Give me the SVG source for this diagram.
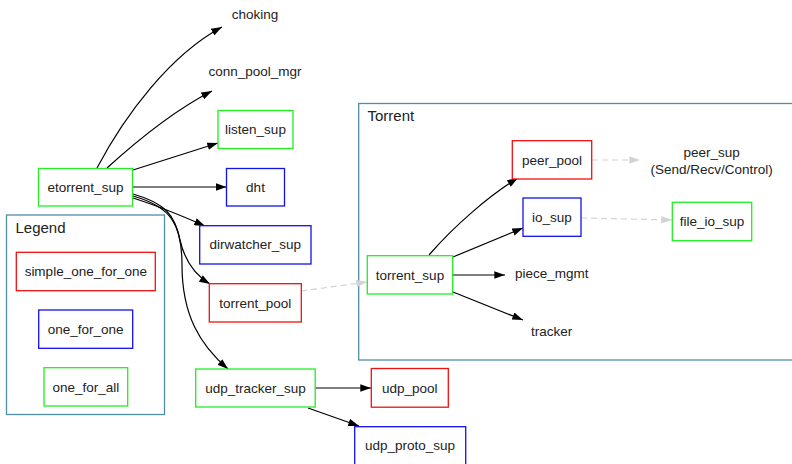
<svg xmlns="http://www.w3.org/2000/svg" width="792" height="464" viewBox="0 0 792 464">
<defs>
<marker id="ah" viewBox="0 0 10 7" refX="10" refY="3.5" markerWidth="11" markerHeight="7.5" markerUnits="userSpaceOnUse" orient="auto"><path d="M0,0 L10,3.5 L0,7 z" fill="#000"/></marker>
<marker id="ahg" viewBox="0 0 10 7" refX="10" refY="3.5" markerWidth="11" markerHeight="7.5" markerUnits="userSpaceOnUse" orient="auto"><path d="M0,0 L10,3.5 L0,7 z" fill="#d3d3d3"/></marker>
<style>
text{font-family:"Liberation Sans","DejaVu Sans",Arial,sans-serif;font-size:13.5px;fill:#222;text-anchor:middle;dominant-baseline:central}
.g{fill:#fff;stroke:#22ee22;stroke-width:1.3}
.r{fill:#fff;stroke:#ee1111;stroke-width:1.3}
.b{fill:#fff;stroke:#1111ee;stroke-width:1.3}
.cl{fill:none;stroke:#4f8ea8;stroke-width:1.3}
.e{fill:none;stroke:#000;stroke-width:1.2;marker-end:url(#ah)}
.d{fill:none;stroke:#d3d3d3;stroke-width:1.2;stroke-dasharray:6,4;marker-end:url(#ahg)}
.ct{text-anchor:start;font-size:15px}
</style>
</defs>
<rect width="792" height="464" fill="#fff"/>
<g id="cluster_legend"><rect class="cl" x="6.5" y="215" width="158" height="199.5"/><text class="ct" x="15.5" y="227.5">Legend</text></g>
<g id="cluster_torrent"><rect class="cl" x="358.7" y="103.5" width="450" height="256.5"/><text class="ct" x="367.5" y="115.5">Torrent</text></g>
<g id="connectors">
<path class="e" d="M97,168 C125,115 170,55 222,27"/>
<path class="e" d="M107,168 C140,138 175,110 212,91"/>
<path class="e" d="M133,170 L218,143"/>
<path class="e" d="M133,187 L226.5,187"/>
<path class="e" d="M133,198 C155,205 180,215 205,226"/>
<path class="e" d="M133,194 C165,203 175,215 180,240 C185,262 195,275 210,284"/>
<path class="e" d="M133,196 C172,207 182,225 182,265 C182,315 200,345 228,369"/>
<path class="e" d="M315,388 L371,388"/>
<path class="e" d="M308,408 L359,426"/>
<path class="d" d="M301,291 L367,282"/>
<path class="e" d="M429,255 C455,225 490,195 518,178"/>
<path class="e" d="M453,257 L523,228"/>
<path class="e" d="M453,275 L505,275"/>
<path class="e" d="M453,292 L523,320"/>
<path class="d" d="M592,160 L640,160"/>
<path class="d" d="M581,218 L672,220"/>
</g>
<g id="choking"><text x="255" y="14">choking</text></g>
<g id="conn_pool_mgr"><text x="255" y="71">conn_pool_mgr</text></g>
<g id="etorrent_sup"><rect class="g" x="38.5" y="168.5" width="94" height="37.5"/><text x="85.5" y="187">etorrent_sup</text></g>
<g id="listen_sup"><rect class="g" x="218" y="110.5" width="75" height="38"/><text x="255.5" y="129.5">listen_sup</text></g>
<g id="dht"><rect class="b" x="226.5" y="168.5" width="58" height="37.5"/><text x="255.5" y="187">dht</text></g>
<g id="dirwatcher_sup"><rect class="b" x="199.7" y="225.7" width="111.3" height="38.3"/><text x="255.3" y="244.8">dirwatcher_sup</text></g>
<g id="torrent_pool"><rect class="r" x="209.3" y="283.7" width="92" height="38.3"/><text x="255.3" y="303">torrent_pool</text></g>
<g id="udp_tracker_sup"><rect class="g" x="195.7" y="369" width="119.5" height="38"/><text x="255.5" y="388">udp_tracker_sup</text></g>
<g id="udp_pool"><rect class="r" x="371.3" y="368.5" width="77" height="38.7"/><text x="409.8" y="388">udp_pool</text></g>
<g id="udp_proto_sup"><rect class="b" x="354.7" y="426.7" width="111" height="40"/><text x="410" y="445">udp_proto_sup</text></g>
<g id="simple_one_for_one"><rect class="r" x="16.3" y="252.3" width="139" height="38.4"/><text x="85.8" y="271.5">simple_one_for_one</text></g>
<g id="one_for_one"><rect class="b" x="38.7" y="310" width="94" height="38.3"/><text x="85.7" y="329">one_for_one</text></g>
<g id="one_for_all"><rect class="g" x="44" y="367.7" width="83.7" height="38.3"/><text x="85.8" y="387">one_for_all</text></g>
<g id="torrent_sup"><rect class="g" x="367.3" y="255.7" width="85.4" height="38.3"/><text x="410" y="275">torrent_sup</text></g>
<g id="peer_pool"><rect class="r" x="512.3" y="140.7" width="79.4" height="38.3"/><text x="552" y="160">peer_pool</text></g>
<g id="io_sup"><rect class="b" x="523" y="198" width="58" height="38.3"/><text x="552" y="217">io_sup</text></g>
<g id="file_io_sup"><rect class="g" x="672.3" y="202.3" width="79.4" height="38.4"/><text x="712" y="221.5">file_io_sup</text></g>
<g id="piece_mgmt"><text x="551.7" y="273.5">piece_mgmt</text></g>
<g id="tracker"><text x="551.7" y="331">tracker</text></g>
<g id="peer_sup"><text x="711.7" y="152">peer_sup</text><text x="711.7" y="169">(Send/Recv/Control)</text></g>
</svg>
